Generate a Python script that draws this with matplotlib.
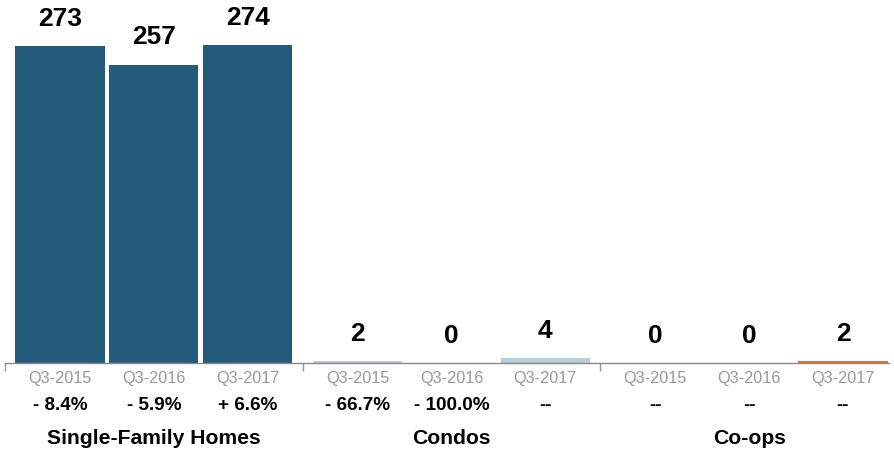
import numpy as np
import matplotlib
matplotlib.use('Agg')
from matplotlib import pyplot as plt
from matplotlib.transforms import blended_transform_factory

plt.rcParams['font.family'] = ['Liberation Sans', 'DejaVu Sans']

groups = ['Single-Family Homes', 'Condos', 'Co-ops']
periods = ['Q3-2015', 'Q3-2016', 'Q3-2017']
values = [[273, 257, 274], [2, 0, 4], [0, 0, 2]]
changes = [['- 8.4%', '- 5.9%', '+ 6.6%'],
           ['- 66.7%', '- 100.0%', '--'],
           ['--', '--', '--']]
colors = ['#245b7b', '#b8cfd9', '#e0703a']

group_gap = 3.17
bar_w = 0.95

fig = plt.figure(figsize=(8.94, 4.54), dpi=100)
ax = fig.add_axes([5 / 894, 91 / 454, 884 / 894, 363 / 454])

trans = blended_transform_factory(ax.transData, fig.transFigure)
for g in range(len(groups)):
    xs = g * group_gap + np.arange(len(periods))
    ax.bar(xs, values[g], width=bar_w, color=colors[g])
    for i, x in enumerate(xs):
        ax.text(x, values[g][i] + 13, str(values[g][i]), ha='center', va='bottom',
                fontsize=19, fontweight='bold', color='black')
        ax.text(x, 1 - 378 / 454, periods[i], transform=trans, ha='center',
                va='center', fontsize=11.7, color='#999999')
        ax.text(x, 1 - 405 / 454, changes[g][i], transform=trans, ha='center',
                va='center', fontsize=13.6, fontweight='bold', color='black')
    ax.text(xs[1], 1 - 438 / 454, groups[g], transform=trans, ha='center',
            va='center', fontsize=15.2, fontweight='bold', color='black')

left = -0.585
ax.set_xlim(left, 2 * group_gap + 2 + 0.49)
ax.set_ylim(0, 312.6)
seps = [left, left + group_gap, left + 2 * group_gap]
ax.set_xticks(seps)
ax.set_xticklabels([])
ax.tick_params(axis='x', direction='out', length=6, width=1, color='#999999')
ax.set_yticks([])
for s in ['top', 'right', 'left']:
    ax.spines[s].set_visible(False)
ax.spines['bottom'].set_color('#888888')
ax.spines['bottom'].set_linewidth(1)
ax.patch.set_alpha(0)

fig.savefig('out.png', dpi=100)
